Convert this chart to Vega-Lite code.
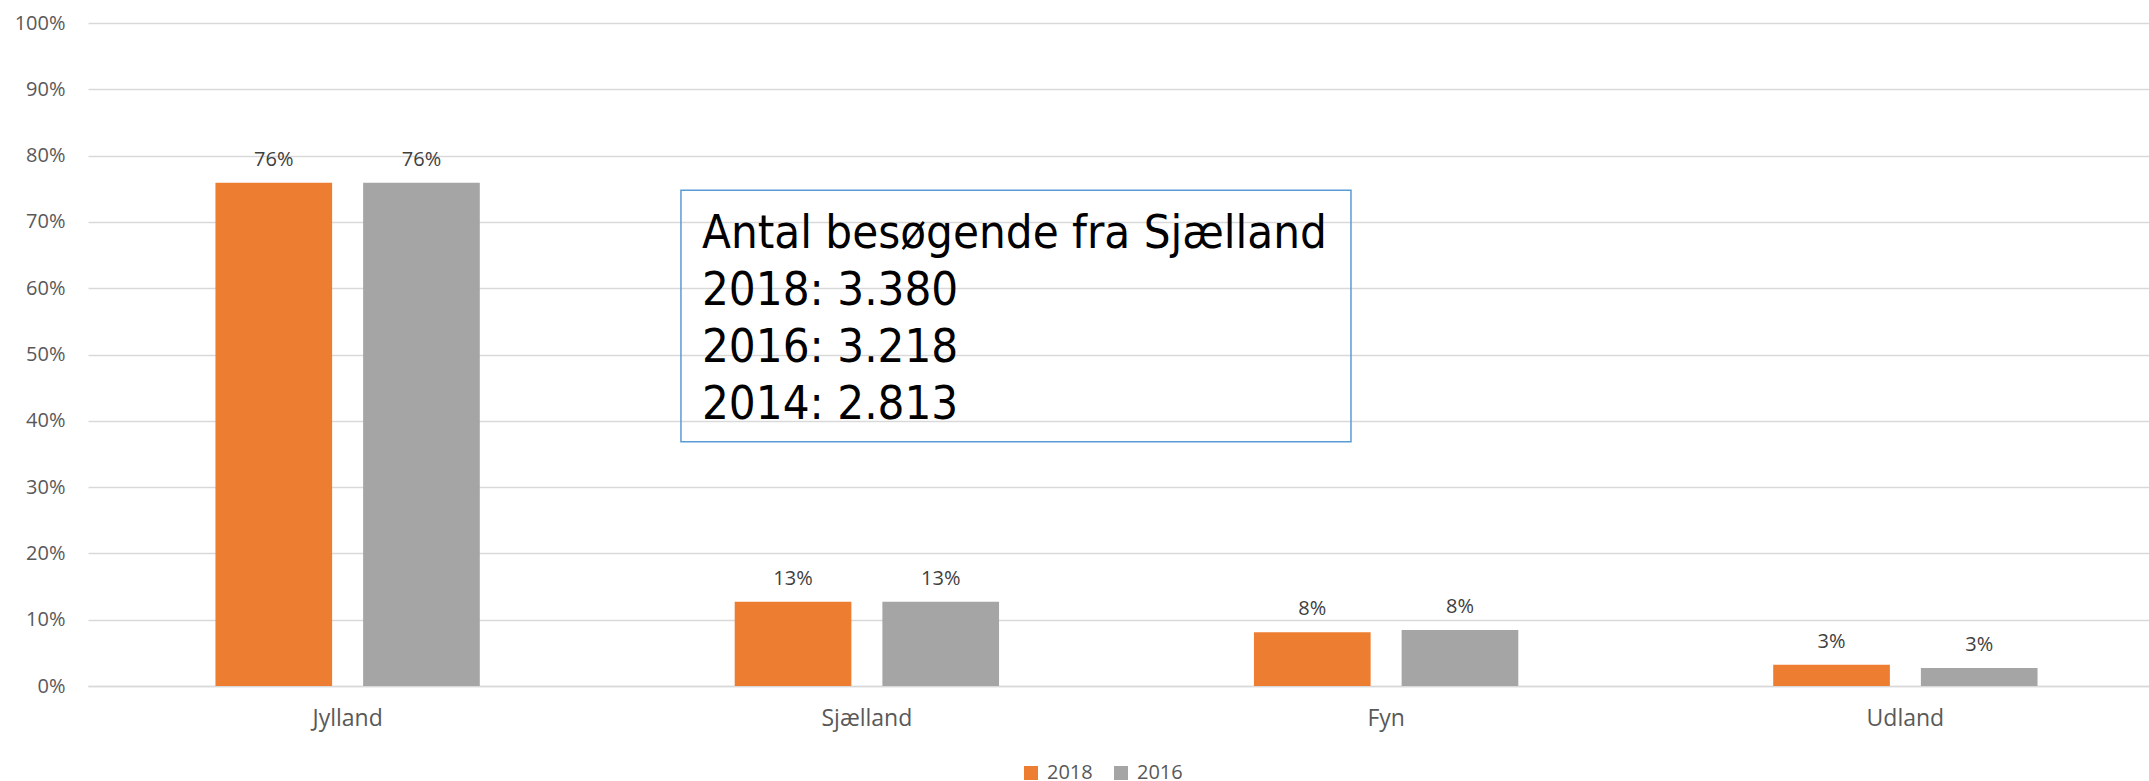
{
  "$schema": "https://vega.github.io/schema/vega-lite/v6.json",
  "width": 2061,
  "height": 663,
  "autosize": {"type": "none"},
  "padding": {"left": 88, "top": 23, "right": 0, "bottom": 95},
  "background": "white",
  "config": {"view": {"stroke": null}, "font": "Open Sans"},
  "datasets": {
    "shares": [
      {"region": "Jylland", "year": "2018", "share": 0.759},
      {"region": "Jylland", "year": "2016", "share": 0.759},
      {"region": "Sjælland", "year": "2018", "share": 0.127},
      {"region": "Sjælland", "year": "2016", "share": 0.127},
      {"region": "Fyn", "year": "2018", "share": 0.081},
      {"region": "Fyn", "year": "2016", "share": 0.0845},
      {"region": "Udland", "year": "2018", "share": 0.032},
      {"region": "Udland", "year": "2016", "share": 0.027}
    ],
    "note": [
      {"text": "Antal besøgende fra Sjælland\n2018: 3.380\n2016: 3.218\n2014: 2.813"}
    ]
  },
  "layer": [
    {
      "data": {"name": "shares"},
      "mark": {"type": "bar"},
      "encoding": {
        "x": {
          "field": "region", "type": "nominal",
          "sort": ["Jylland", "Sjælland", "Fyn", "Udland"],
          "scale": {"range": [0, 2077], "paddingInner": 0, "paddingOuter": 0},
          "axis": {"title": null, "domainColor": "#D9D9D9", "domainWidth": 1.3, "ticks": false, "labelAngle": 0, "labelFontSize": 23, "labelColor": "#595959", "labelPadding": 39, "labelBaseline": "alphabetic", "labelFont": "Open Sans"}
        },
        "xOffset": {"field": "year", "type": "nominal", "sort": ["2018", "2016"], "scale": {"paddingInner": 0.21, "paddingOuter": 0.863}},
        "y": {
          "field": "share", "type": "quantitative",
          "scale": {"domain": [0, 1]},
          "axis": {"title": null, "values": [0, 0.1, 0.2, 0.3, 0.4, 0.5, 0.6, 0.7, 0.8, 0.9, 1], "format": ".0%", "domain": false, "ticks": false, "labelPadding": 23, "labelFontSize": 20, "labelColor": "#595959", "labelFont": "Open Sans", "gridColor": "#D9D9D9", "gridWidth": 1.3}
        },
        "color": {
          "field": "year", "type": "nominal",
          "scale": {"domain": ["2018", "2016"], "range": ["#ED7D31", "#A5A5A5"]},
          "legend": {"orient": "none", "legendX": 933, "legendY": 740, "direction": "horizontal", "title": null, "symbolType": "square", "symbolSize": 196, "symbolStrokeWidth": 0, "labelFontSize": 20, "labelColor": "#595959", "labelFont": "Open Sans", "labelOffset": 6, "columnPadding": 18, "padding": 0}
        }
      }
    },
    {
      "data": {"name": "shares"},
      "mark": {"type": "text", "dy": -17, "baseline": "alphabetic", "fontSize": 20, "color": "#404040", "font": "Open Sans"},
      "encoding": {
        "x": {"field": "region", "type": "nominal", "sort": ["Jylland", "Sjælland", "Fyn", "Udland"], "scale": {"range": [0, 2077], "paddingInner": 0, "paddingOuter": 0}, "axis": null},
        "xOffset": {"field": "year", "type": "nominal", "sort": ["2018", "2016"], "scale": {"paddingInner": 0.21, "paddingOuter": 0.863}},
        "y": {"field": "share", "type": "quantitative"},
        "text": {"field": "share", "type": "quantitative", "format": ".0%"}
      }
    },
    {
      "data": {"name": "note"},
      "mark": {"type": "rect", "fillOpacity": 0, "fill": "white", "stroke": "#5B9BD5", "strokeWidth": 1.5},
      "encoding": {
        "x": {"datum": 0.2877, "type": "quantitative", "scale": {"domain": [0, 1]}, "axis": null},
        "x2": {"datum": 0.6128},
        "y": {"datum": 0.7477, "type": "quantitative"},
        "y2": {"datum": 0.3683}
      }
    },
    {
      "data": {"name": "note"},
      "mark": {"type": "text", "align": "left", "baseline": "alphabetic", "font": "DejaVu Sans Condensed", "fontSize": 47, "lineHeight": 57, "lineBreak": "\n", "color": "black"},
      "encoding": {
        "x": {"datum": 0.2979, "type": "quantitative", "scale": {"domain": [0, 1]}, "axis": null},
        "y": {"datum": 0.660, "type": "quantitative"},
        "text": {"field": "text", "type": "nominal"}
      }
    }
  ],
  "resolve": {"scale": {"x": "independent"}}
}
